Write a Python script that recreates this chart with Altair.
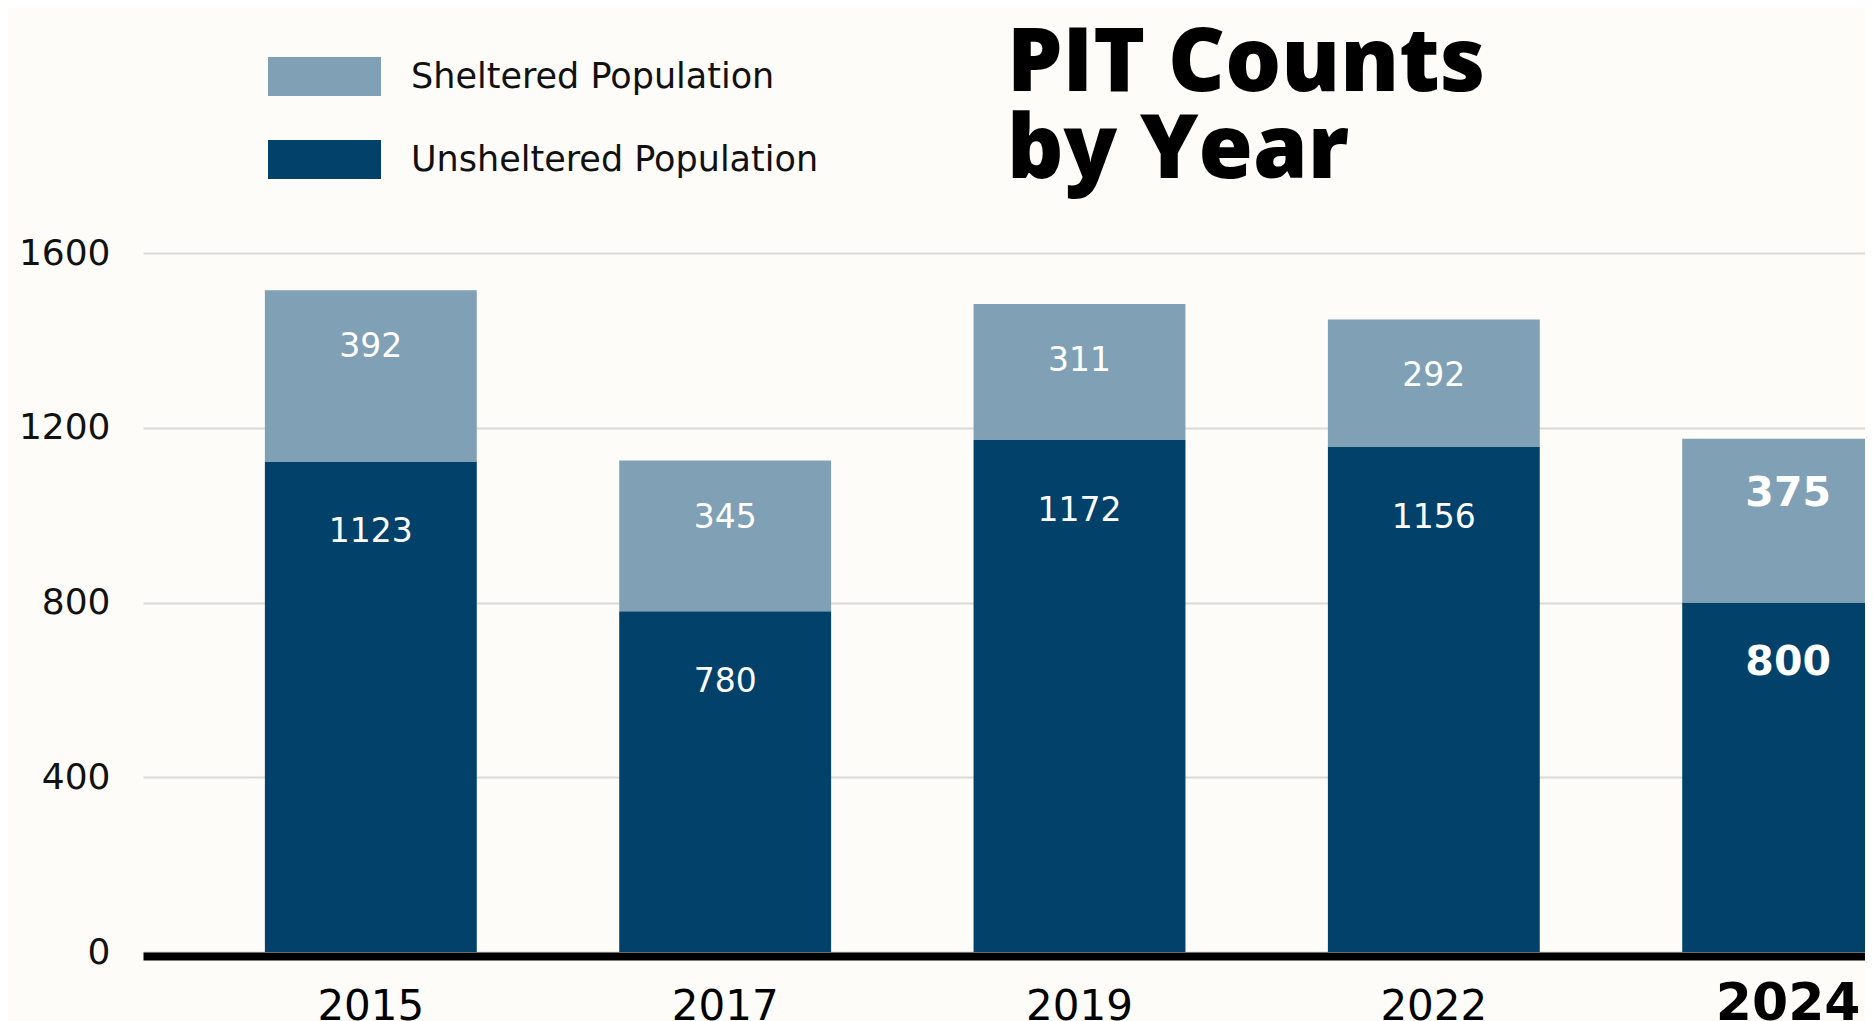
import altair as alt
import pandas as pd

years = ["2015", "2017", "2019", "2022", "2024"]
sheltered = [392, 345, 311, 292, 375]
unsheltered = [1123, 780, 1172, 1156, 800]
categories = ["Sheltered Population", "Unsheltered Population"]
colors = ["#80a1b5", "#01416a"]
y_ticks = [0, 400, 800, 1200, 1600]
highlight_year = "2024"

rows = []
for yr, s, u in zip(years, sheltered, unsheltered):
    rows.append(dict(year=yr, category=categories[1], value=u, v0=0, v1=u, hl=(yr == highlight_year)))
    rows.append(dict(year=yr, category=categories[0], value=s, v0=u, v1=u + s, hl=(yr == highlight_year)))
df = pd.DataFrame(rows)

test = f"datum.value == '{highlight_year}'"

x_enc = alt.X(
    "year:N",
    sort=years,
    scale=alt.Scale(range=[0, 1873], paddingInner=0.402, paddingOuter=0.344),
    axis=alt.Axis(
        title=None,
        domain=True,
        domainColor="#000000",
        domainWidth=8,
        offset=4,
        ticks=False,
        labelAngle=0,
        labelBaseline="alphabetic",
        labelPadding=63,
        labelColor="#000000",
        labelFont="DejaVu Sans",
        labelFontSize={"condition": {"test": test, "value": 52}, "value": 42},
        labelFontWeight={"condition": {"test": test, "value": "bold"}, "value": "normal"},
        zindex=1,
    ),
)

y_enc = alt.Y(
    "v1:Q",
    scale=alt.Scale(domain=[0, 1600], nice=False),
    axis=alt.Axis(
        title=None,
        values=y_ticks,
        format="d",
        domain=False,
        ticks=False,
        labelFont="DejaVu Sans",
        labelFontSize=36,
        labelColor="#111111",
        labelPadding=33,
        gridColor="#d9d9d9",
        gridWidth=2,
    ),
)

bars = alt.Chart(df).mark_bar(clip=True).encode(
    x=x_enc,
    y=y_enc,
    y2="v0:Q",
    color=alt.Color(
        "category:N",
        scale=alt.Scale(domain=categories, range=colors),
        legend=alt.Legend(
            orient="none",
            legendX=125,
            legendY=-233,
            direction="vertical",
            title=None,
            symbolType="M-1,-0.345H1V0.345H-1Z",
            symbolSize=12769,
            symbolStrokeWidth=0,
            symbolOpacity=1,
            labelFont="DejaVu Sans",
            labelFontSize=35,
            labelColor="#111111",
            labelOffset=30,
            labelLimit=0,
            rowPadding=7,
            padding=0,
        ),
    ),
)


def value_labels(flt, size, weight, dy):
    return alt.Chart(df).transform_filter(flt).mark_text(
        font="DejaVu Sans", fontSize=size, fontWeight=weight, color="white", baseline="middle", dy=dy
    ).encode(x=alt.X("year:N", sort=years), y=alt.Y("v1:Q"), text="value:Q")


sh = f"datum.category == '{categories[0]}'"
un = f"datum.category == '{categories[1]}'"
lab_s = value_labels(f"!datum.hl && {sh}", 33, "normal", 57)
lab_u = value_labels(f"!datum.hl && {un}", 33, "normal", 71)
lab_hs = value_labels(f"datum.hl && {sh}", 41, "bold", 55)
lab_hu = value_labels(f"datum.hl && {un}", 41, "bold", 60)

chart = alt.layer(bars, lab_s, lab_u, lab_hs, lab_hu).properties(
    width=1722,
    height=699,
    autosize=alt.AutoSizeParams(type="none"),
    padding={"left": 135, "top": 245, "right": 0, "bottom": 69},
    background="#fdfcf8",
    title=alt.TitleParams(
        text=["PIT Counts", "by Year"],
        font="Open Sans",
        fontSize=88,
        fontWeight=800,
        lineHeight=87,
        color="#000000",
        anchor="start",
        frame="group",
        dx=864,
        dy=196,
        offset=20,
    ),
).configure_view(stroke=None)

chart.save("out.html", embed_options={"renderer": "svg", "actions": False})
